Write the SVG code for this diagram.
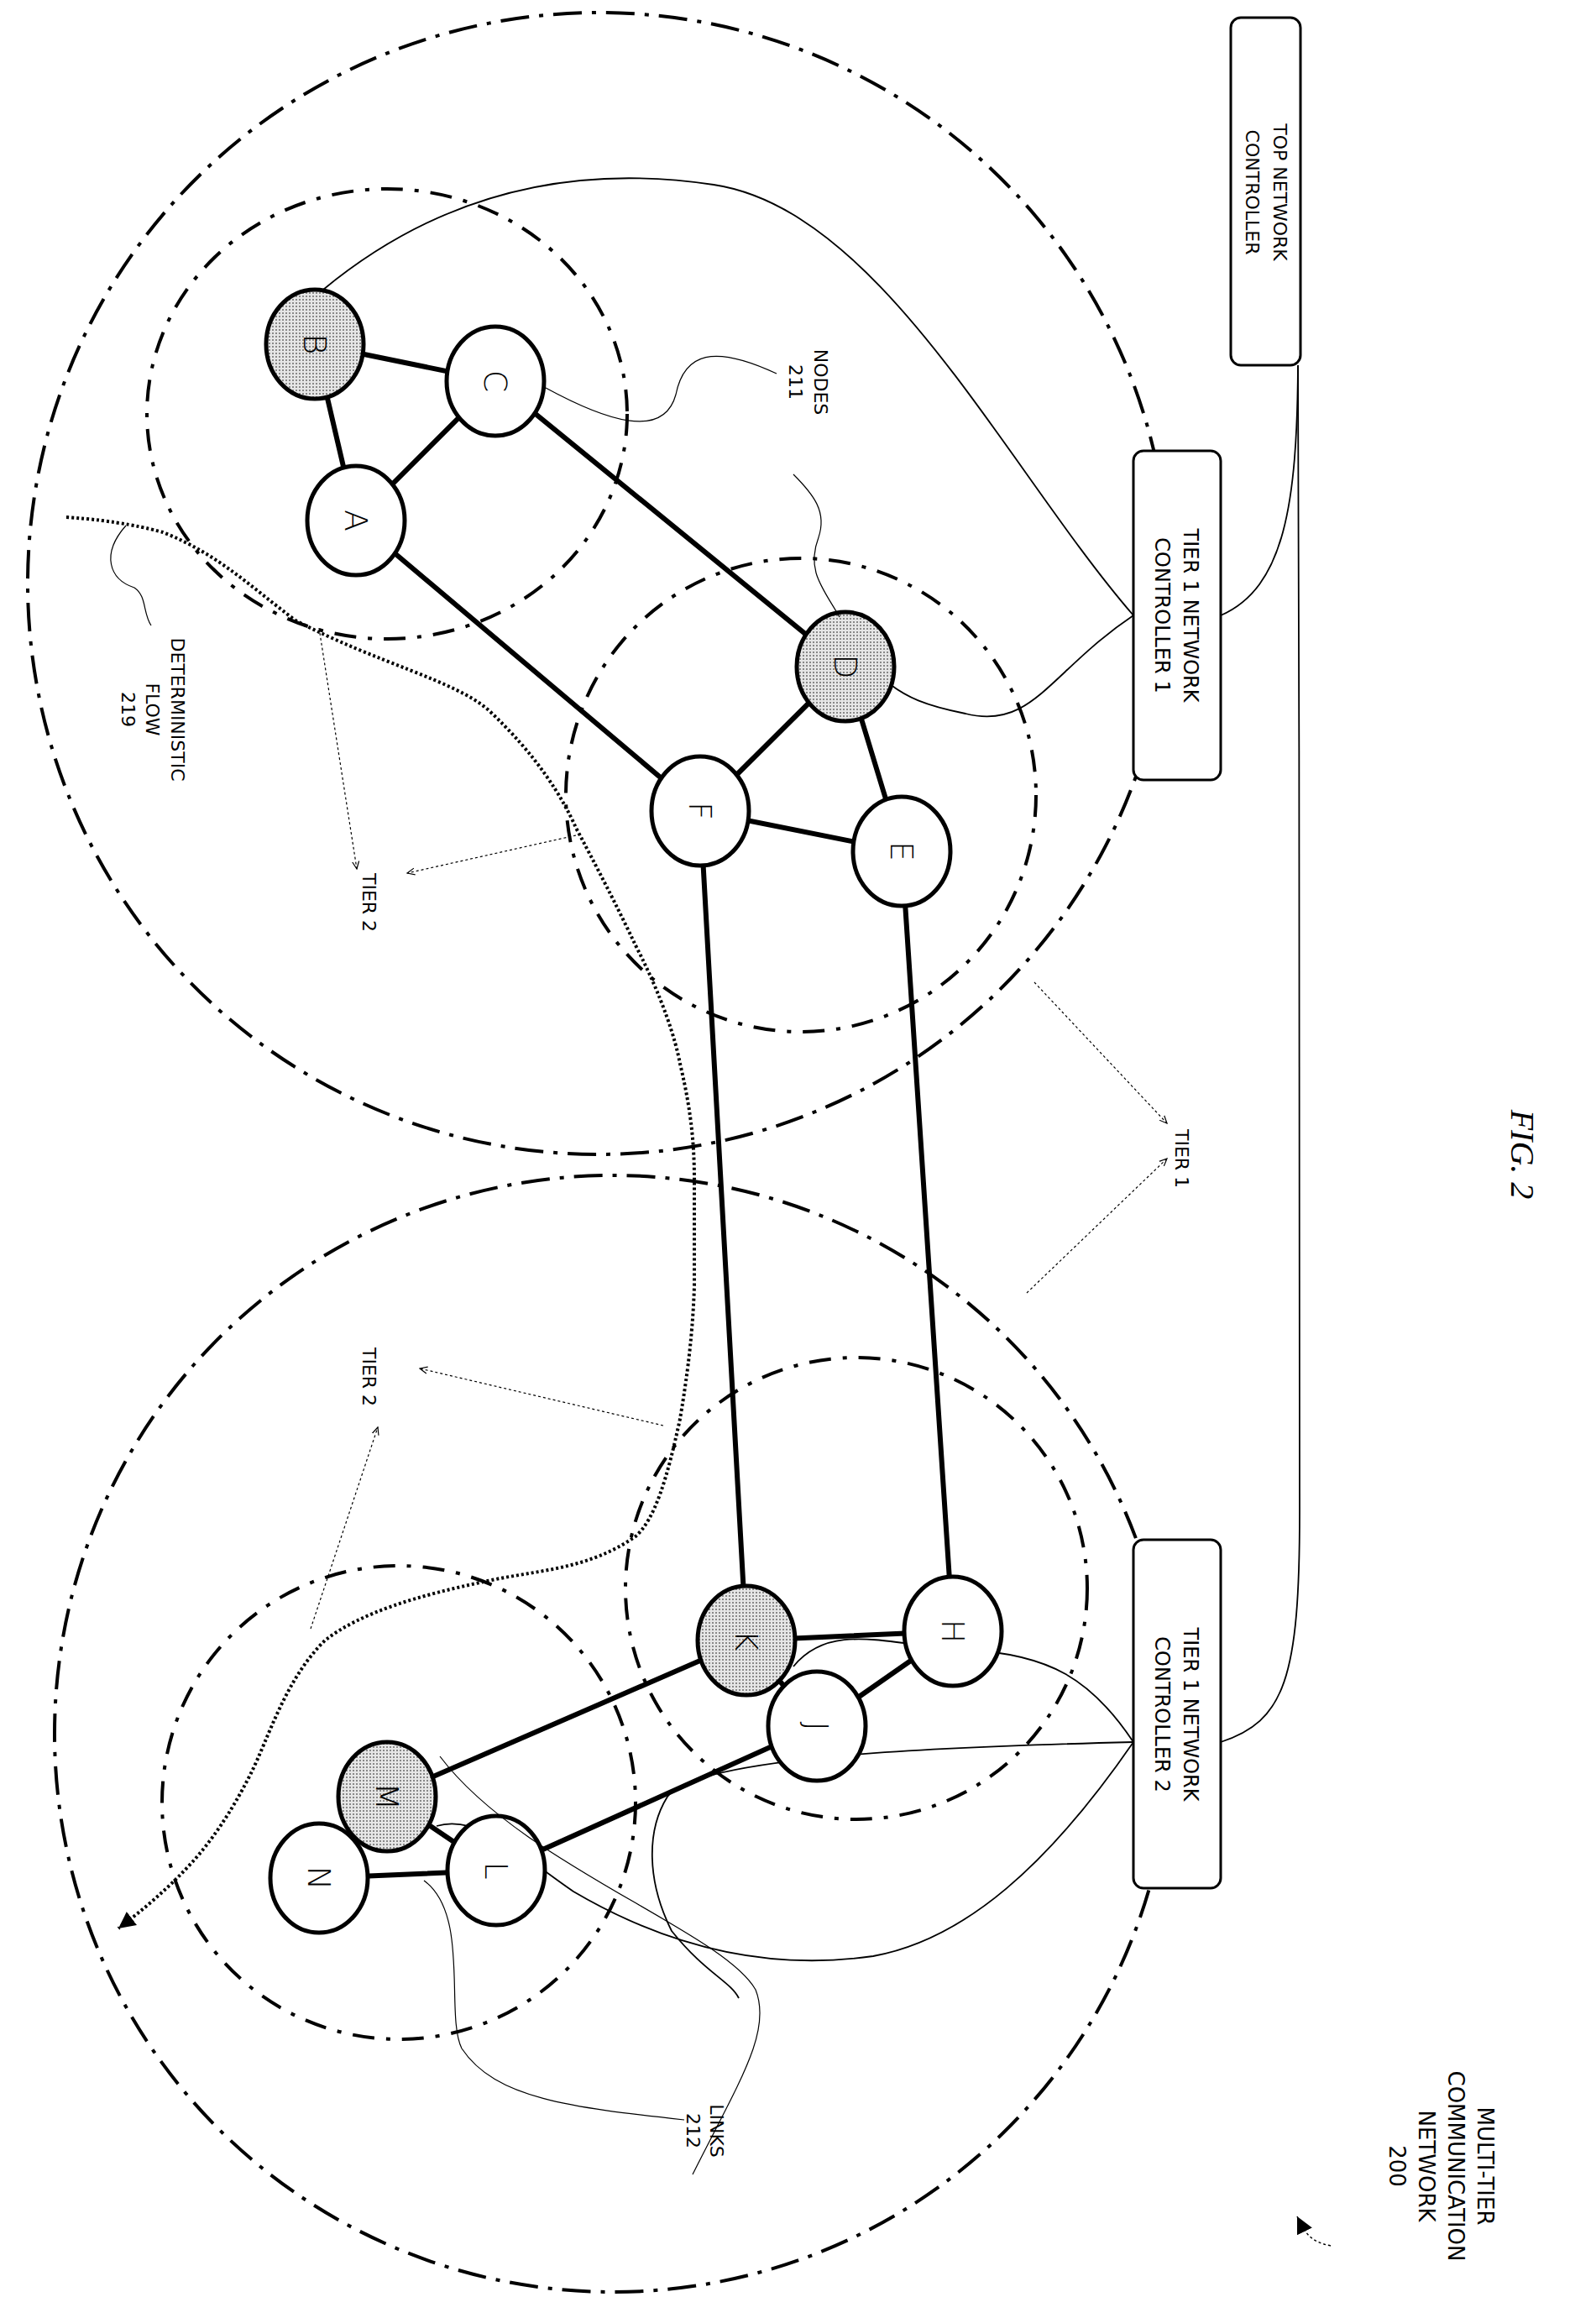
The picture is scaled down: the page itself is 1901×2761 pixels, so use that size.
<svg xmlns="http://www.w3.org/2000/svg" width="1901" height="2761" viewBox="0 0 1901 2761">
<defs>
<pattern id="dots" width="4" height="4" patternUnits="userSpaceOnUse"><rect width="4" height="4" fill="#e6e6e6"/><rect width="2" height="2" fill="#888"/></pattern>
<marker id="ah" markerWidth="10" markerHeight="10" refX="9" refY="5" orient="auto" markerUnits="userSpaceOnUse"><path d="M0,1 L9,5 L0,9" fill="none" stroke="#000" stroke-width="1.2"/></marker>
<marker id="fh" markerWidth="24" markerHeight="24" refX="20" refY="12" orient="auto" markerUnits="userSpaceOnUse"><path d="M0,2 L20,12 L0,22 Z" fill="#000"/></marker>
</defs>
<style>
text{font-family:"DejaVu Sans","Liberation Sans",sans-serif;fill:#000}
.lbl{font-size:22px}
.nl{font-size:38px;text-anchor:middle;dominant-baseline:central;font-weight:300}
.node{stroke:#000;stroke-width:5;fill:#fff}
.sh{fill:url(#dots)}
.edge{stroke:#000;stroke-width:6;fill:none}
.thin{stroke:#000;stroke-width:1.8;fill:none}
.lead{stroke:#000;stroke-width:1.2;fill:none}
.t1{stroke:#000;stroke-width:4;fill:none;stroke-dasharray:34 12 5 12}
.t2{stroke:#000;stroke-width:4;fill:none;stroke-dasharray:26 14 5 14}
.box{fill:#fff;stroke:#000;stroke-width:3}
.tarr{stroke:#000;stroke-width:1.2;fill:none;stroke-dasharray:3 3}
</style>
<rect width="1901" height="2761" fill="#fff"/>
<g id="tiers">
<circle class="t1" cx="713" cy="695" r="680"/>
<circle class="t1" cx="730" cy="2065" r="665"/>
<ellipse class="t2" cx="461" cy="493" rx="286" ry="268"/>
<ellipse class="t2" cx="954" cy="947" rx="280" ry="282"/>
<ellipse class="t2" cx="1020" cy="1892" rx="275" ry="275"/>
<ellipse class="t2" cx="475" cy="2147" rx="282" ry="282"/>
</g>
<g id="connectors">
<path class="edge" d="M375,410 L590,454 M375,410 L424,620 M424,620 L590,454 M590,454 L1007,794 M424,620 L834,966 M1007,794 L834,966 M1007,794 L1074,1014 M834,966 L1074,1014 M834,966 L889,1954 M1074,1014 L1135,1943 M889,1954 L1135,1943 M889,1954 L973,2056 M1135,1943 L973,2056 M889,1954 L461,2140 M973,2056 L591,2228 M461,2140 L380,2237 M461,2140 L591,2228 M380,2237 L591,2228"/>
<path class="thin" d="M1546,435 C1545,600 1530,700 1454,733"/>
<path class="thin" d="M1546,435 C1548,900 1548,1500 1548,1800 C1548,2000 1530,2050 1454,2075"/>
<path class="thin" d="M1350,733 C1200,560 1050,250 850,220 C650,190 500,250 385,345"/>
<path class="thin" d="M1350,733 C1250,800 1230,870 1150,850 C1100,840 1080,830 1060,815"/>
<path class="thin" d="M1350,2075 C1300,2000 1250,1970 1150,1965 C1060,1960 990,1930 945,1985"/>
<path class="thin" d="M1350,2075 C1250,2220 1150,2310 1040,2330 C900,2350 780,2310 683,2253 C620,2210 570,2160 520,2175"/>
<path class="thin" d="M1350,2075 C1150,2080 830,2090 795,2140 C770,2180 770,2240 800,2300 C840,2350 870,2360 880,2380"/>
</g>
<g id="flow">
<path d="M79,616 C140,620 180,630 194,634 C260,660 300,700 352,739 C450,790 540,810 581,845 C640,900 670,950 686,986 C720,1050 740,1090 757,1126 C790,1190 805,1240 810,1267 C825,1330 827,1370 827,1408 L827,1531 C825,1600 815,1660 810,1690 C795,1760 780,1810 757,1830 C700,1870 640,1870 581,1883 C500,1900 430,1920 387,1954 C340,2000 320,2070 299,2112 C275,2160 250,2195 229,2218 C200,2250 170,2275 141,2297" fill="none" stroke="#000" stroke-width="4" stroke-dasharray="3 3" marker-end="url(#fh)"/>
</g>
<g id="nB"><ellipse class="node sh" cx="375" cy="410" rx="58" ry="65"/><text class="nl" x="375" y="410" transform="rotate(90 375 410)">B</text></g>
<g id="nC"><ellipse class="node" cx="590" cy="454" rx="58" ry="65"/><text class="nl" x="590" y="454" transform="rotate(90 590 454)">C</text></g>
<g id="nA"><ellipse class="node" cx="424" cy="620" rx="58" ry="65"/><text class="nl" x="424" y="620" transform="rotate(90 424 620)">A</text></g>
<g id="nD"><ellipse class="node sh" cx="1007" cy="794" rx="58" ry="65"/><text class="nl" x="1007" y="794" transform="rotate(90 1007 794)">D</text></g>
<g id="nF"><ellipse class="node" cx="834" cy="966" rx="58" ry="65"/><text class="nl" x="834" y="966" transform="rotate(90 834 966)">F</text></g>
<g id="nE"><ellipse class="node" cx="1074" cy="1014" rx="58" ry="65"/><text class="nl" x="1074" y="1014" transform="rotate(90 1074 1014)">E</text></g>
<g id="nK"><ellipse class="node sh" cx="889" cy="1954" rx="58" ry="65"/><text class="nl" x="889" y="1954" transform="rotate(90 889 1954)">K</text></g>
<g id="nH"><ellipse class="node" cx="1135" cy="1943" rx="58" ry="65"/><text class="nl" x="1135" y="1943" transform="rotate(90 1135 1943)">H</text></g>
<g id="nJ"><ellipse class="node" cx="973" cy="2056" rx="58" ry="65"/><text class="nl" x="973" y="2056" transform="rotate(90 973 2056)">J</text></g>
<g id="nM"><ellipse class="node sh" cx="461" cy="2140" rx="58" ry="65"/><text class="nl" x="461" y="2140" transform="rotate(90 461 2140)">M</text></g>
<g id="nL"><ellipse class="node" cx="591" cy="2228" rx="58" ry="65"/><text class="nl" x="591" y="2228" transform="rotate(90 591 2228)">L</text></g>
<g id="nN"><ellipse class="node" cx="380" cy="2237" rx="58" ry="65"/><text class="nl" x="380" y="2237" transform="rotate(90 380 2237)">N</text></g>
<g id="topctrl"><rect class="box" x="1466" y="21" width="83" height="414" rx="12"/>
<text class="lbl" text-anchor="middle" transform="translate(1517,229) rotate(90)">TOP NETWORK</text>
<text class="lbl" text-anchor="middle" transform="translate(1484,229) rotate(90)">CONTROLLER</text></g>
<g id="ctrl1"><rect class="box" x="1350" y="537" width="104" height="392" rx="12"/>
<text class="lbl" text-anchor="middle" style="font-size:24px" transform="translate(1410,733) rotate(90)">TIER 1 NETWORK</text>
<text class="lbl" text-anchor="middle" style="font-size:24px" transform="translate(1376,733) rotate(90)">CONTROLLER 1</text></g>
<g id="ctrl2"><rect class="box" x="1350" y="1834" width="104" height="415" rx="12"/>
<text class="lbl" text-anchor="middle" style="font-size:24px" transform="translate(1410,2042) rotate(90)">TIER 1 NETWORK</text>
<text class="lbl" text-anchor="middle" style="font-size:24px" transform="translate(1376,2042) rotate(90)">CONTROLLER 2</text></g>
<g id="labels">
<path class="lead" d="M650,462 C720,500 790,525 805,470 C815,420 850,410 925,445"/>
<path class="lead" d="M1000,735 C980,700 960,680 975,640 C985,610 970,590 945,565"/>
<text class="lbl" text-anchor="middle" transform="translate(970,455) rotate(90)">NODES</text>
<text class="lbl" text-anchor="middle" transform="translate(940,455) rotate(90)">211</text>
<path class="lead" d="M150,626 C120,660 130,690 160,700 C175,710 170,730 180,745"/>
<text class="lbl" text-anchor="middle" transform="translate(204,845) rotate(90)">DETERMINISTIC</text>
<text class="lbl" text-anchor="middle" transform="translate(174,845) rotate(90)">FLOW</text>
<text class="lbl" text-anchor="middle" transform="translate(145,845) rotate(90)">219</text>
<path class="tarr" d="M380,748 L425,1035" marker-end="url(#ah)"/>
<path class="tarr" d="M686,995 L485,1040" marker-end="url(#ah)"/>
<text class="lbl" text-anchor="middle" transform="translate(432,1075) rotate(90)">TIER 2</text>
<path class="tarr" d="M1232,1170 L1390,1338" marker-end="url(#ah)"/>
<path class="tarr" d="M1223,1540 L1390,1380" marker-end="url(#ah)"/>
<text class="lbl" text-anchor="middle" transform="translate(1400,1380) rotate(90)">TIER 1</text>
<path class="tarr" d="M790,1698 L500,1630" marker-end="url(#ah)"/>
<path class="tarr" d="M370,1940 L450,1700" marker-end="url(#ah)"/>
<text class="lbl" text-anchor="middle" transform="translate(432,1640) rotate(90)">TIER 2</text>
<path class="lead" d="M505,2240 C560,2280 530,2400 550,2440 C590,2500 680,2510 815,2525"/>
<path class="lead" d="M524,2092 C620,2220 860,2300 900,2370 C920,2420 880,2480 825,2590"/>
<text class="lbl" text-anchor="middle" transform="translate(846,2538) rotate(90)">LINKS</text>
<text class="lbl" text-anchor="middle" transform="translate(818,2538) rotate(90)">212</text>
<text text-anchor="middle" style="font-family:'Liberation Serif',serif;font-style:italic;font-size:40px" transform="translate(1800,1375) rotate(90)">FIG. 2</text>
<text class="lbl" text-anchor="middle" style="font-size:26px" transform="translate(1760,2580) rotate(90)">MULTI-TIER</text>
<text class="lbl" text-anchor="middle" style="font-size:26px" transform="translate(1725,2580) rotate(90)">COMMUNICATION</text>
<text class="lbl" text-anchor="middle" style="font-size:26px" transform="translate(1690,2580) rotate(90)">NETWORK</text>
<text class="lbl" text-anchor="middle" style="font-size:26px" transform="translate(1655,2580) rotate(90)">200</text>
<path d="M1585,2675 C1560,2670 1555,2660 1545,2640" fill="none" stroke="#000" stroke-width="1.5" stroke-dasharray="3 3" marker-end="url(#fh)"/>
</g>
</svg>
